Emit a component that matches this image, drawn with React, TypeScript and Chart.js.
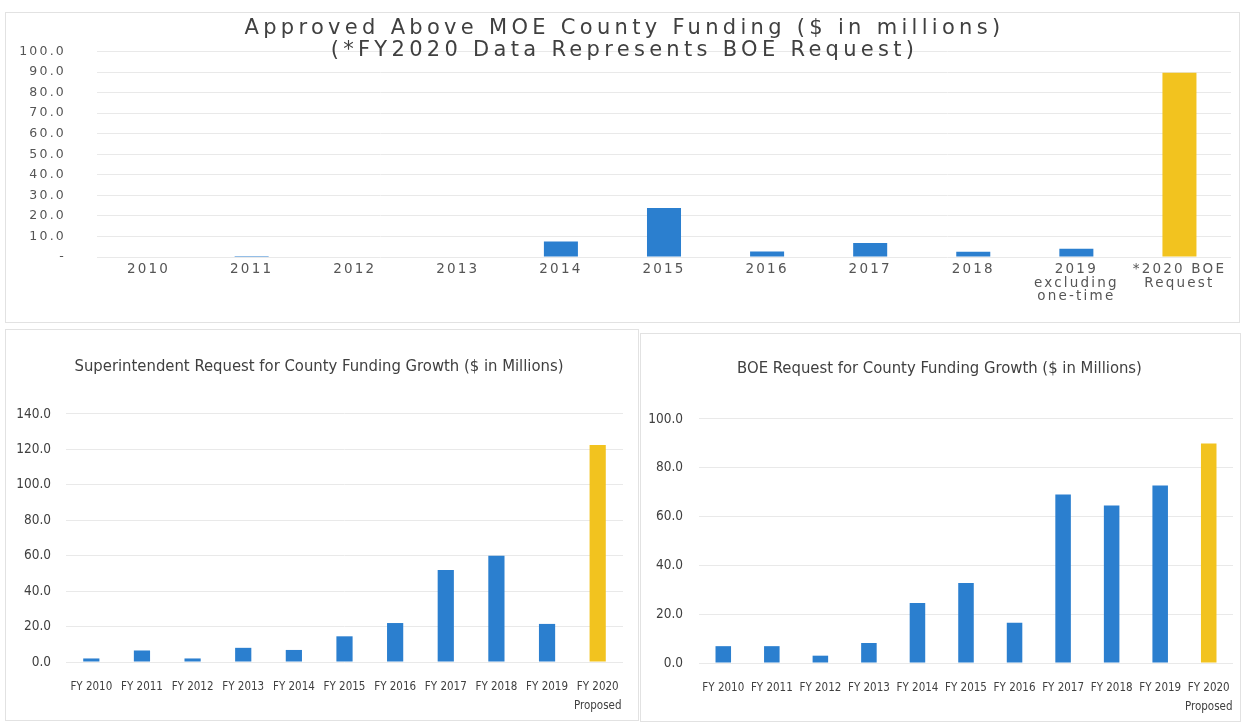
import React, { useEffect, useRef } from "react";
import { Chart, registerables } from "chart.js";

Chart.register(...registerables);

// ---------- data ----------
const topCategories: (string | string[])[] = [
  "2010", "2011", "2012", "2013", "2014", "2015", "2016", "2017", "2018",
  ["2019", "excluding", "one-time"],
  ["*2020 BOE", "Request"],
];
const topValues = [0, 0.5, 0, 0, 7.6, 23.8, 2.7, 6.8, 2.5, 4.0, 89.6];
const topTitleLines = [
  "Approved Above MOE County Funding ($ in millions)",
  "(*FY2020 Data Represents BOE Request)",
];

const fyCategories: (string | string[])[] = [
  "FY 2010", "FY 2011", "FY 2012", "FY 2013", "FY 2014", "FY 2015",
  "FY 2016", "FY 2017", "FY 2018", "FY 2019",
  ["FY 2020", "Proposed"],
];
const superintendentValues = [2.0, 6.5, 2.0, 8.0, 6.8, 14.5, 22.0, 52.0, 60.0, 21.5, 122.5];
const boeValues = [6.9, 6.9, 3.0, 8.2, 24.6, 32.8, 16.5, 69.1, 64.6, 72.7, 90.0];

const superintendentTitle = "Superintendent Request for County Funding Growth ($ in Millions)";
const boeTitle = "BOE Request for County Funding Growth ($ in Millions)";

// ---------- styles ----------
const BLUE = "#2b7fcf";
const GOLD = "#f2c31f";
const GRID = "#e9e9e9";
const TEXT = "#404040";
const WIDE_FONT = "'DejaVu Sans', 'Open Sans', sans-serif";
const NARROW_FONT =
  "'Liberation Sans Narrow', 'DejaVu Sans Condensed', 'Roboto Condensed', Roboto, sans-serif";

const colorsFor = (vals: number[]) =>
  vals.map((_, i) => (i === vals.length - 1 ? GOLD : BLUE));

const letterSpacingPlugin = {
  id: "letterSpacingTicks",
  beforeUpdate(chart: any, _a: any, opts: any) {
    if (opts && opts.value) (chart.ctx as any).letterSpacing = opts.value;
  },
  beforeLayout(chart: any, _a: any, opts: any) {
    if (opts && opts.value) (chart.ctx as any).letterSpacing = opts.value;
  },
  beforeDraw(chart: any, _a: any, opts: any) {
    if (opts && opts.value) (chart.ctx as any).letterSpacing = opts.value;
  },
};

const overlayTitlePlugin = {
  id: "overlayTitle",
  afterDraw(chart: any, _a: any, opts: any) {
    if (!opts || !opts.lines) return;
    const ctx = chart.ctx as any;
    ctx.save();
    ctx.letterSpacing = opts.spacing || "0px";
    ctx.font = opts.font;
    ctx.fillStyle = opts.color;
    ctx.textAlign = "center";
    ctx.textBaseline = "middle";
    opts.lines.forEach((line: string, i: number) => {
      ctx.fillText(line, chart.width / 2 + 2, opts.y + i * opts.lineHeight);
    });
    ctx.restore();
  },
};

function useChart(ref: React.RefObject<HTMLCanvasElement>, makeConfig: () => any) {
  useEffect(() => {
    if (!ref.current) return;
    const chart = new Chart(ref.current, makeConfig());
    return () => chart.destroy();
  }, []);
}

function TopChart() {
  const ref = useRef<HTMLCanvasElement>(null);
  useChart(ref, () => ({
    type: "bar",
    data: {
      labels: topCategories,
      datasets: [
        {
          data: topValues,
          backgroundColor: colorsFor(topValues),
          barPercentage: 0.33,
          categoryPercentage: 1,
        },
      ],
    },
    plugins: [letterSpacingPlugin, overlayTitlePlugin],
    options: {
      animation: false,
      responsive: true,
      maintainAspectRatio: false,
      layout: { padding: { top: 33, right: 8, left: 0, bottom: 0 } },
      plugins: {
        legend: { display: false },
        tooltip: { enabled: false },
        letterSpacingTicks: { value: "2.2px" },
        overlayTitle: {
          lines: topTitleLines,
          font: `21px ${WIDE_FONT}`,
          spacing: "4.3px",
          color: TEXT,
          y: 16,
          lineHeight: 22,
        },
      },
      scales: {
        x: {
          grid: {
            display: true,
            drawOnChartArea: false,
            drawTicks: true,
            tickLength: 6,
            tickColor: "rgba(0,0,0,0)",
            color: "rgba(0,0,0,0)",
          },
          border: { display: false },
          ticks: {
            color: "#555",
            font: { family: WIDE_FONT, size: 13.5, lineHeight: 1.0 },
            padding: 0,
            maxRotation: 0,
            autoSkip: false,
          },
          afterFit: (s: any) => {
            s.height = 65;
          },
        },
        y: {
          min: 0,
          max: 100,
          grid: { color: GRID, drawTicks: false },
          border: { display: false },
          ticks: {
            stepSize: 10,
            color: "#555",
            font: { family: WIDE_FONT, size: 12.5 },
            padding: 31,
            callback: (v: any) => (Number(v) === 0 ? "-" : Number(v).toFixed(1)),
          },
          afterFit: (s: any) => {
            s.width = 91;
          },
        },
      },
    },
  }));
  return <canvas ref={ref} />;
}

function FyChart(props: {
  values: number[];
  title: string;
  max: number;
  width: number;
  height: number;
  area: { left: number; right: number; top: number; bottom: number };
  titleCenterY: number;
  padLeft: number;
  yTickRight: number;
}) {
  const ref = useRef<HTMLCanvasElement>(null);
  const { values, title, max, width, height, area, titleCenterY, padLeft, yTickRight } = props;
  useChart(ref, () => {
    const titleSize = 16.5;
    const titleLine = titleSize * 1.2;
    const padTop = titleCenterY - titleLine / 2;
    const padBottom = area.top - padTop - titleLine;
    const padRight = width - area.right;
    return {
      type: "bar",
      data: {
        labels: fyCategories,
        datasets: [
          {
            data: values,
            backgroundColor: colorsFor(values),
            barPercentage: 0.32,
            categoryPercentage: 1,
          },
        ],
      },
      options: {
        animation: false,
        responsive: true,
        maintainAspectRatio: false,
        layout: { padding: { top: 0, right: padRight, left: padLeft, bottom: 0 } },
        plugins: {
          legend: { display: false },
          tooltip: { enabled: false },
          title: {
            display: true,
            text: title,
            color: TEXT,
            font: { family: NARROW_FONT, size: titleSize, weight: "normal", lineHeight: 1.2 },
            padding: { top: padTop, bottom: padBottom },
          },
        },
        scales: {
          x: {
            grid: {
              display: true,
              drawOnChartArea: false,
              drawTicks: true,
              tickLength: 16,
              tickColor: "rgba(0,0,0,0)",
              color: "rgba(0,0,0,0)",
            },
            border: { display: false },
            ticks: {
              color: "#404040",
              font: { family: NARROW_FONT, size: 11.5, lineHeight: 1.6 },
              padding: 0,
              maxRotation: 0,
              autoSkip: false,
            },
            afterFit: (s: any) => {
              s.height = height - area.bottom;
            },
          },
          y: {
            min: 0,
            max,
            grid: { color: GRID, drawTicks: false },
            border: { display: false },
            ticks: {
              stepSize: 20,
              color: "#404040",
              font: { family: NARROW_FONT, size: 13.5 },
              padding: area.left - yTickRight,
              callback: (v: any) => Number(v).toFixed(1),
            },
            afterFit: (s: any) => {
              s.width = area.left - padLeft;
            },
          },
        },
      },
    };
  });
  return <canvas ref={ref} />;
}

const panel = (left: number, top: number, width: number, height: number): React.CSSProperties => ({
  position: "absolute",
  left,
  top,
  width,
  height,
  boxSizing: "border-box",
  border: "1px solid #e2e2e2",
  background: "#fff",
});

export default function App() {
  return (
    <div
      style={{
        position: "fixed",
        left: 0,
        top: 0,
        width: 1243,
        height: 724,
        background: "#fff",
        overflow: "hidden",
      }}
    >
      <div style={panel(5, 12, 1235, 311)}>
        <TopChart />
      </div>
      <div style={panel(5, 329, 634, 392)}>
        <FyChart
          values={superintendentValues}
          title={superintendentTitle}
          max={140}
          width={632}
          height={390}
          area={{ left: 60, right: 617, top: 84, bottom: 332 }}
          titleCenterY={37}
          padLeft={9}
          yTickRight={45}
        />
      </div>
      <div style={panel(640, 333, 601, 389)}>
        <FyChart
          values={boeValues}
          title={boeTitle}
          max={100}
          width={599}
          height={387}
          area={{ left: 58, right: 592, top: 85, bottom: 329 }}
          titleCenterY={35}
          padLeft={5}
          yTickRight={42}
        />
      </div>
    </div>
  );
}
